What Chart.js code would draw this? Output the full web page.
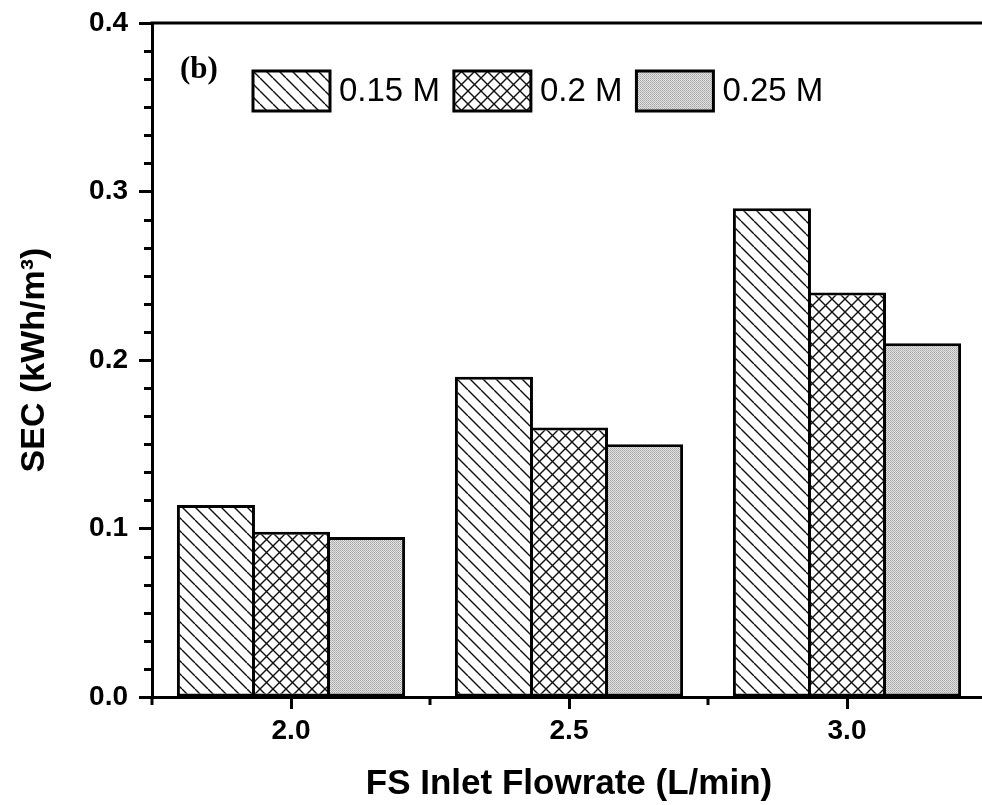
<!DOCTYPE html>
<html>
<head>
<meta charset="utf-8">
<script src="https://cdn.jsdelivr.net/npm/chart.js@4/dist/chart.umd.min.js"></script>
<style>
  html, body { margin: 0; padding: 0; background: #fff; overflow: hidden; }
  #wrap { width: 990px; height: 805px; }
</style>
</head>
<body>
<div id="wrap"><canvas id="c" width="990" height="805"></canvas></div>
<script>
// FS inlet flowrate categories (L/min)
const categories = ['2.0', '2.5', '3.0'];
// Draw solution concentrations
const seriesLabels = ['0.15 M', '0.2 M', '0.25 M'];
// Specific energy consumption (kWh/m3)
const sec015 = [0.114, 0.19, 0.29];
const sec020 = [0.098, 0.16, 0.24];
const sec025 = [0.095, 0.15, 0.21];
// Y axis range and tick step
const yMin = 0, yMax = 0.4, yStep = 0.1;

const FONT = '"Liberation Sans", Arial, sans-serif';

function makeTile(size, draw) {
  const c = document.createElement('canvas');
  c.width = size; c.height = size;
  const g = c.getContext('2d');
  draw(g, size);
  return document.getElementById('c').getContext('2d').createPattern(c, 'repeat');
}

// "\" single hatch
const hatchPattern = makeTile(13, (g, s) => {
  g.fillStyle = '#fff'; g.fillRect(0, 0, s, s);
  g.strokeStyle = '#111'; g.lineWidth = 1.4;
  for (const x0 of [-s, 0, s]) {
    g.beginPath(); g.moveTo(x0, 0); g.lineTo(x0 + s, s); g.stroke();
  }
});
// diagonal cross hatch
const crossPattern = makeTile(13, (g, s) => {
  g.fillStyle = '#fff'; g.fillRect(0, 0, s, s);
  g.strokeStyle = '#111'; g.lineWidth = 1.4;
  for (const x0 of [-s, 0, s]) {
    g.beginPath(); g.moveTo(x0, 0); g.lineTo(x0 + s, s); g.stroke();
    g.beginPath(); g.moveTo(x0, s); g.lineTo(x0 + s, 0); g.stroke();
  }
});
// fine grey stipple
const dotPattern = makeTile(2, (g, s) => {
  g.fillStyle = '#e2e2e2'; g.fillRect(0, 0, s, s);
  g.fillStyle = '#a4a4a4'; g.fillRect(0, 0, 1, 1);
  g.fillStyle = '#b8b8b8'; g.fillRect(1, 1, 1, 1);
});

const fills = [hatchPattern, crossPattern, dotPattern];
const seriesValues = [sec015, sec020, sec025];

// Minor ticks, frame top line
const minorTicks = {
  id: 'minorTicks',
  afterDraw(chart) {
    const { ctx, chartArea, scales } = chart;
    ctx.save();
    ctx.strokeStyle = '#000';
    ctx.lineWidth = 3;
    const ys = scales.y;
    const n = Math.round((yMax - yMin) / yStep) * 6;
    for (let i = 0; i <= n; i++) {
      if (i % 6 === 0) continue;
      const v = yMin + i * yStep / 6;
      const py = Math.round(ys.getPixelForValue(v)) + 0.5;
      ctx.beginPath(); ctx.moveTo(chartArea.left - 8, py); ctx.lineTo(chartArea.left, py); ctx.stroke();
    }
    const xs = scales.x;
    for (let i = -0.5; i <= categories.length - 0.5; i += 1) {
      const px = xs.getPixelForValue(i);
      ctx.beginPath(); ctx.moveTo(px, chartArea.bottom); ctx.lineTo(px, chartArea.bottom + 8); ctx.stroke();
    }
    // top frame line
    ctx.beginPath();
    ctx.moveTo(chartArea.left - 1.5, chartArea.top);
    ctx.lineTo(chartArea.right, chartArea.top);
    ctx.lineTo(chartArea.right, chartArea.bottom);
    ctx.stroke();
    ctx.restore();
  }
};

// Legend row inside the plot area and panel tag
const insetLegend = {
  id: 'insetLegend',
  afterDraw(chart) {
    const { ctx } = chart;
    ctx.save();
    ctx.fillStyle = '#000';
    ctx.font = 'bold 31px "Liberation Serif", "Times New Roman", serif';
    ctx.textBaseline = 'middle';
    ctx.textAlign = 'left';
    ctx.fillText('(b)', 180, 70);

    ctx.font = '33px ' + FONT;
    let x = 253;
    const top = 71, bw = 77, bh = 40;
    chart.data.datasets.forEach(ds => {
      ctx.fillStyle = ds.backgroundColor;
      ctx.fillRect(x, top, bw, bh);
      ctx.strokeStyle = '#000';
      ctx.lineWidth = 3;
      ctx.strokeRect(x, top, bw, bh);
      ctx.fillStyle = '#000';
      ctx.fillText(ds.label, x + bw + 9, top + bh / 2 + 1);
      x += bw + 9 + ctx.measureText(ds.label).width + 14;
    });
    ctx.restore();
  }
};

Chart.defaults.color = '#000';
Chart.defaults.font.family = FONT;

new Chart(document.getElementById('c'), {
  type: 'bar',
  data: {
    labels: categories,
    datasets: seriesLabels.map((lab, i) => ({
      label: lab,
      data: seriesValues[i],
      backgroundColor: fills[i],
      borderColor: '#000',
      borderWidth: 3,
      borderSkipped: false,
      categoryPercentage: 0.81,
      barPercentage: 1.04
    }))
  },
  options: {
    responsive: false,
    animation: false,
    devicePixelRatio: 1,
    layout: { autoPadding: false, padding: { top: 23, right: 4, bottom: 0, left: 0 } },
    plugins: { legend: { display: false }, tooltip: { enabled: false } },
    scales: {
      x: {
        type: 'category',
        offset: true,
        afterFit(s) { s.height = 108; s.paddingLeft = 0; s.paddingRight = 0; },
        grid: {
          offset: false, drawOnChartArea: false, drawTicks: true,
          tickLength: 12, tickWidth: 3, tickColor: '#000'
        },
        border: { display: true, color: '#000', width: 3 },
        ticks: { padding: 5, font: { size: 28, weight: 'bold' }, color: '#000' },
        title: {
          display: true, text: 'FS Inlet Flowrate (L/min)',
          font: { size: 35, weight: 'bold', lineHeight: 1.2 }, color: '#000',
          padding: { top: 0, bottom: 0 }
        }
      },
      y: {
        min: yMin, max: yMax,
        afterFit(s) { s.width = 152; s.paddingTop = 0; s.paddingBottom = 0; },
        grid: {
          drawOnChartArea: false, drawTicks: true,
          tickLength: 13, tickWidth: 3, tickColor: '#000'
        },
        border: { display: true, color: '#000', width: 3 },
        ticks: {
          stepSize: yStep, padding: 11,
          font: { size: 28, weight: 'bold' }, color: '#000',
          callback: v => Number(v).toFixed(1)
        },
        title: {
          display: true, text: 'SEC (kWh/m³)',
          font: { size: 34, weight: 'bold', lineHeight: 1.2 }, color: '#000',
          padding: { top: 14, bottom: 0 }
        }
      }
    }
  },
  plugins: [minorTicks, insetLegend]
});
</script>
</body>
</html>
